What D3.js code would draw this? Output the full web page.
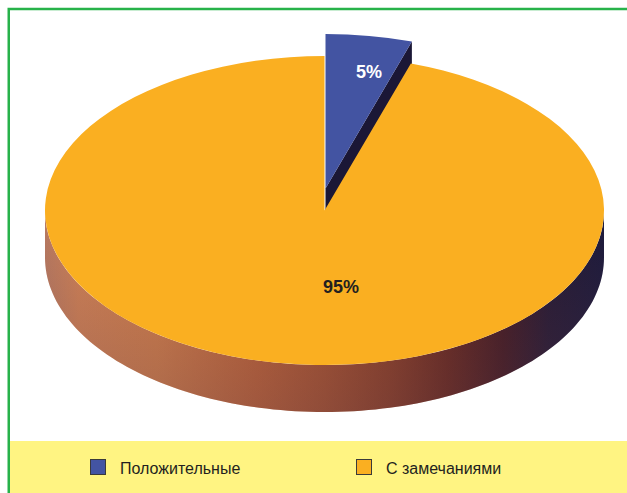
<!DOCTYPE html>
<html>
<head>
<meta charset="utf-8">
<script src="https://cdn.jsdelivr.net/npm/d3@7"></script>
<style>
  html, body { margin: 0; padding: 0; background: #fff; }
  svg { display: block; font-family: "Liberation Sans", Arial, sans-serif; }
</style>
</head>
<body>
<svg id="chart" width="627" height="493"></svg>
<script>
// chart data
const categories = ["Положительные", "С замечаниями"]
const values = [5, 95]
const valueLabels = ["5%", "95%"]
const colors = ["#4354a2", "#faaf21"]

const width = 627
const height = 493

// pie geometry (screen ellipse + wall height)
const cx = 324.5, cy = 210.5
const rx = 279.5, ry = 154.5
const depth = 47
const explode = { dx: 1, dy: -22 } // first slice pulled away from the viewer

const svg = d3.select("#chart")

// frame + legend band
svg.append("rect")
  .attr("x", 10).attr("y", 441)
  .attr("width", width).attr("height", 60)
  .attr("fill", "#fff482")
svg.append("rect")
  .attr("x", 8.75).attr("y", 9)
  .attr("width", width + 20).attr("height", height + 20)
  .attr("fill", "none")
  .attr("stroke", "#27b24a")
  .attr("stroke-width", 2.5)

const arcs = d3.pie().sort(null).value((d) => d)(values)

// point on the top ellipse for a d3 angle (0 = 12 o'clock, clockwise)
const pt = (a, ox = 0, oy = 0) => [cx + ox + rx * Math.sin(a), cy + oy - ry * Math.cos(a)]

const defs = svg.append("defs")
const sideGrad = defs.append("linearGradient")
  .attr("id", "side")
  .attr("gradientUnits", "userSpaceOnUse")
  .attr("x1", cx - rx).attr("x2", cx + rx).attr("y1", 0).attr("y2", 0)
;[
  [0, "#b97a60"], [0.06, "#cf8155"], [0.2, "#d07e4a"], [0.38, "#bd6337"],
  [0.5, "#a7532f"], [0.62, "#8b3f26"], [0.72, "#6a2a1f"], [0.82, "#441b22"],
  [0.9, "#271a33"], [1, "#1c1a3b"],
].forEach(([o, c]) => sideGrad.append("stop").attr("offset", o).attr("stop-color", c))

const shadeGrad = defs.append("linearGradient")
  .attr("id", "shade")
  .attr("x1", 0).attr("x2", 0).attr("y1", 0).attr("y2", 1)
shadeGrad.append("stop").attr("offset", 0).attr("stop-color", "#5a3c50").attr("stop-opacity", 0)
shadeGrad.append("stop").attr("offset", 1).attr("stop-color", "#5a3c50").attr("stop-opacity", 0.3)

const line = d3.line()

// front wall of every slice that is not pulled out
arcs.forEach((d, i) => {
  if (i === 0) return
  const a0 = Math.max(d.startAngle, Math.PI / 2)
  const a1 = Math.min(d.endAngle, 3 * Math.PI / 2)
  if (a1 <= a0) return
  const n = 120
  const topPts = d3.range(n + 1).map((k) => pt(a0 + (a1 - a0) * k / n))
  const botPts = topPts.map(([x, y]) => [x, y + depth]).reverse()
  const wall = line([...topPts, ...botPts]) + "Z"
  svg.append("path").attr("d", wall).attr("fill", "url(#side)")
  svg.append("path").attr("d", wall).attr("fill", "url(#shade)")
})

// cut face of the exploded slice (seen along its end radius)
{
  const d = arcs[0]
  const c = [cx + explode.dx, cy + explode.dy]
  const e = pt(d.endAngle, explode.dx, explode.dy)
  svg.append("path")
    .attr("d", line([c, e, [e[0], e[1] + depth], [c[0], c[1] + depth]]) + "Z")
    .attr("fill", "#1b1736")
}

// top faces: circle arcs squashed into the ellipse
const arcGen = d3.arc().innerRadius(0).outerRadius(rx)
const order = arcs.map((d, i) => i).reverse()
order.forEach((i) => {
  const d = arcs[i]
  const off = i === 0 ? explode : { dx: 0, dy: 0 }
  svg.append("g")
    .attr("transform", `translate(${cx + off.dx},${cy + off.dy}) scale(1,${ry / rx})`)
    .append("path")
    .attr("d", arcGen(d))
    .attr("fill", colors[i])
})

// value labels
const labelPos = [
  [cx + explode.dx + 43.5, cy + explode.dy - 111],
  [cx + 16.5, cy + 82.5],
]
const labelColor = ["#ffffff", "#231f20"]
valueLabels.forEach((t, i) => {
  svg.append("text")
    .attr("x", labelPos[i][0])
    .attr("y", labelPos[i][1])
    .attr("text-anchor", "middle")
    .attr("font-size", 18)
    .attr("font-weight", "bold")
    .attr("fill", labelColor[i])
    .text(t)
})

// legend
const legendX = [90, 356]
categories.forEach((name, i) => {
  svg.append("rect")
    .attr("x", legendX[i] + 0.5).attr("y", 459.5)
    .attr("width", 15).attr("height", 15)
    .attr("fill", colors[i])
    .attr("stroke", "#3a3a3a")
    .attr("stroke-width", 1)
  svg.append("text")
    .attr("x", legendX[i] + 30)
    .attr("y", 473.5)
    .attr("font-size", 16)
    .attr("fill", "#231f20")
    .text(name)
})
</script>
</body>
</html>
